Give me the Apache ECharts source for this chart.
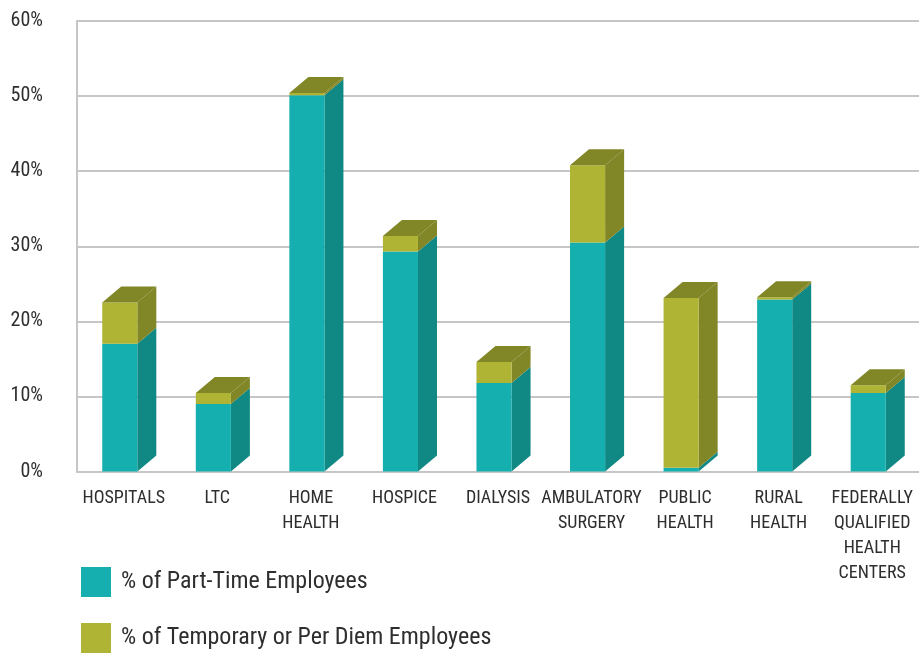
<!DOCTYPE html>
<html>
<head>
<meta charset="utf-8">
<script src="https://cdn.jsdelivr.net/npm/echarts@6/dist/echarts.min.js"></script>
<style>html,body{margin:0;padding:0;background:#fff;}#c{width:919px;height:654px;}</style>
</head>
<body>
<div id="c"></div>
<script>
var categories = ['HOSPITALS','LTC','HOME\nHEALTH','HOSPICE','DIALYSIS','AMBULATORY\nSURGERY','PUBLIC\nHEALTH','RURAL\nHEALTH','FEDERALLY\nQUALIFIED\nHEALTH\nCENTERS'];
var partTime = [17.0, 9.0, 50.1, 29.3, 11.8, 30.5, 0.5, 22.9, 10.45];
var temporary = [5.5, 1.45, 0.3, 2.05, 2.8, 10.3, 22.6, 0.3, 1.05];
var yTicks = [0, 10, 20, 30, 40, 50, 60];
var seriesNames = ['% of Part-Time Employees', '% of Temporary or Per Diem Employees'];

var FONT = '"Roboto Condensed","Liberation Sans Narrow","DejaVu Sans Condensed",sans-serif';
var COLORS = {
  teal: {front: '#14AFAE', side: '#108883'},
  olive: {front: '#B0B435', side: '#818727', top: '#818727'}
};
var DX = 19, DY = 16;

var tealData = partTime.map(function (v, i) { return [i, 0, v]; });
var oliveData = temporary.map(function (v, i) { return [i, partTime[i], partTime[i] + v]; });

function makeRender(col, drawTop) {
  return function (params, api) {
    var idx = api.value(0);
    var pBase = api.coord([idx, api.value(1)]);
    var pTop = api.coord([idx, api.value(2)]);
    var band = api.size([1, 0])[0];
    var w = band * 0.375;
    var x0 = pBase[0] - w / 2 - 4;
    var x1 = x0 + w;
    var yb = pBase[1], yt = pTop[1];
    var children = [
      {type: 'polygon', shape: {points: [[x1, yb], [x1 + DX, yb - DY], [x1 + DX, yt - DY], [x1, yt]]},
       style: {fill: col.side}},
      {type: 'rect', shape: {x: x0, y: yt, width: w, height: yb - yt}, style: {fill: col.front}}
    ];
    if (drawTop) {
      children.push({type: 'polygon', shape: {points: [[x0, yt], [x0 + DX, yt - DY], [x1 + DX, yt - DY], [x1, yt]]},
        style: {fill: col.top}});
    }
    return {type: 'group', children: children};
  };
}

function legendFor(i, top, color) {
  return {
    left: 76, top: top,
    itemWidth: 30, itemHeight: 30,
    icon: 'rect',
    textStyle: {fontFamily: FONT, fontSize: 24, color: '#2e2e2e', padding: [0, 0, 0, 5]},
    data: [{name: seriesNames[i], itemStyle: {color: color}}]
  };
}

var chart = echarts.init(document.getElementById('c'), null, {renderer: 'canvas'});
chart.setOption({
  animation: false,
  backgroundColor: '#fff',
  grid: {left: 77, right: 0, top: 21, bottom: 182.5, containLabel: false},
  legend: [
    legendFor(0, 562, COLORS.teal.front),
    legendFor(1, 618, COLORS.olive.front)
  ],
  xAxis: {
    type: 'category', data: categories,
    axisLine: {show: true, lineStyle: {color: '#c6c6c6', width: 2}},
    axisTick: {show: false},
    axisLabel: {fontFamily: FONT, fontSize: 18, color: '#2e2e2e', lineHeight: 25, margin: 14, interval: 0}
  },
  yAxis: {
    type: 'value', min: yTicks[0], max: yTicks[yTicks.length - 1], interval: 10,
    axisLine: {show: true, lineStyle: {color: '#c6c6c6', width: 2}},
    axisTick: {show: false},
    splitLine: {show: true, lineStyle: {color: '#c6c6c6', width: 2}},
    axisLabel: {fontFamily: FONT, fontSize: 20, color: '#2e2e2e', margin: 34, formatter: '{value}%'}
  },
  series: [
    {name: seriesNames[0], type: 'custom', renderItem: makeRender(COLORS.teal, false),
     itemStyle: {color: COLORS.teal.front}, encode: {x: 0, y: [1, 2]}, data: tealData, z: 2},
    {name: seriesNames[1], type: 'custom', renderItem: makeRender(COLORS.olive, true),
     itemStyle: {color: COLORS.olive.front}, encode: {x: 0, y: [1, 2]}, data: oliveData, z: 3}
  ]
});
</script>
</body>
</html>
